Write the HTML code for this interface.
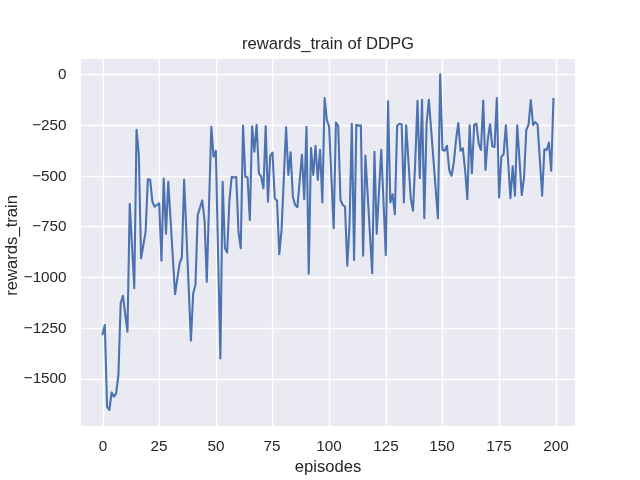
<!DOCTYPE html>
<html><head><meta charset="utf-8"><style>
html,body{margin:0;padding:0;background:#fff;}
svg{display:block;will-change:transform;}
.t{font-family:"Liberation Sans",sans-serif;font-size:15.28px;fill:#262626;}
.l{font-family:"Liberation Sans",sans-serif;font-size:16.67px;fill:#262626;}
</style></head><body>
<svg width="640" height="480" viewBox="0 0 640 480">
<rect width="640" height="480" fill="#fff"/>
<rect x="80.9" y="58.9" width="494.20000000000005" height="367.20000000000005" fill="#eaeaf2"/>
<line x1="103.5" y1="58.9" x2="103.5" y2="426.1" stroke="#fff" stroke-width="1.39"/>
<line x1="159.5" y1="58.9" x2="159.5" y2="426.1" stroke="#fff" stroke-width="1.39"/>
<line x1="216.5" y1="58.9" x2="216.5" y2="426.1" stroke="#fff" stroke-width="1.39"/>
<line x1="272.5" y1="58.9" x2="272.5" y2="426.1" stroke="#fff" stroke-width="1.39"/>
<line x1="329.5" y1="58.9" x2="329.5" y2="426.1" stroke="#fff" stroke-width="1.39"/>
<line x1="386.5" y1="58.9" x2="386.5" y2="426.1" stroke="#fff" stroke-width="1.39"/>
<line x1="442.5" y1="58.9" x2="442.5" y2="426.1" stroke="#fff" stroke-width="1.39"/>
<line x1="499.5" y1="58.9" x2="499.5" y2="426.1" stroke="#fff" stroke-width="1.39"/>
<line x1="556.5" y1="58.9" x2="556.5" y2="426.1" stroke="#fff" stroke-width="1.39"/>
<line x1="80.9" y1="74.5" x2="575.1" y2="74.5" stroke="#fff" stroke-width="1.39"/>
<line x1="80.9" y1="125.5" x2="575.1" y2="125.5" stroke="#fff" stroke-width="1.39"/>
<line x1="80.9" y1="176.5" x2="575.1" y2="176.5" stroke="#fff" stroke-width="1.39"/>
<line x1="80.9" y1="226.5" x2="575.1" y2="226.5" stroke="#fff" stroke-width="1.39"/>
<line x1="80.9" y1="277.5" x2="575.1" y2="277.5" stroke="#fff" stroke-width="1.39"/>
<line x1="80.9" y1="328.5" x2="575.1" y2="328.5" stroke="#fff" stroke-width="1.39"/>
<line x1="80.9" y1="379.5" x2="575.1" y2="379.5" stroke="#fff" stroke-width="1.39"/>
<polyline points="102.55,334.2 104.82,325.0 107.08,406.7 109.35,410.0 111.61,392.5 113.88,396.7 116.15,393.3 118.41,375.0 120.68,303.3 122.94,295.8 125.21,314.0 127.47,331.7 129.74,203.8 132.01,246.0 134.27,288.3 136.54,129.8 138.80,154.0 141.07,258.3 143.34,245.0 145.60,231.7 147.87,179.2 150.13,179.7 152.40,201.7 154.67,206.7 156.93,205.0 159.20,203.3 161.46,260.8 163.73,178.6 166.00,233.8 168.26,181.9 170.53,219.0 172.79,256.6 175.06,294.2 177.32,278.8 179.59,263.3 181.86,257.5 184.12,179.7 186.39,233.1 188.65,286.9 190.92,340.8 193.19,293.3 195.45,285.0 197.72,215.0 199.98,207.7 202.25,200.4 204.52,220.0 206.78,281.7 209.05,204.0 211.31,126.8 213.58,156.7 215.84,150.8 218.11,254.7 220.38,358.5 222.64,181.8 224.91,248.3 227.17,252.5 229.44,200.0 231.71,176.7 233.97,177.5 236.24,177.0 238.50,232.0 240.77,248.3 243.04,125.5 245.30,176.7 247.57,177.5 249.83,220.0 252.10,126.3 254.37,151.7 256.63,124.7 258.90,173.3 261.16,176.7 263.43,188.3 265.69,126.3 267.96,201.7 270.23,155.8 272.49,152.5 274.76,198.3 277.02,200.8 279.29,254.2 281.56,230.0 283.82,178.3 286.09,127.2 288.35,175.0 290.62,152.2 292.89,196.7 295.15,205.0 297.42,207.2 299.68,180.7 301.95,154.7 304.22,199.2 306.48,126.8 308.75,273.7 311.01,148.0 313.28,175.0 315.54,145.8 317.81,180.0 320.08,149.7 322.34,202.5 324.61,98.0 326.87,120.0 329.14,126.7 331.41,177.5 333.67,228.3 335.94,122.5 338.20,125.8 340.47,200.0 342.74,205.0 345.00,206.7 347.27,265.8 349.53,225.0 351.80,123.8 354.06,260.0 356.33,124.7 358.60,125.8 360.86,125.3 363.13,255.8 365.39,155.5 367.66,194.4 369.93,233.9 372.19,273.3 374.46,151.8 376.72,233.6 378.99,191.4 381.26,149.7 383.52,202.2 385.79,255.3 388.05,101.3 390.32,202.5 392.59,194.2 394.85,214.3 397.12,125.8 399.38,123.7 401.65,124.2 403.91,202.5 406.18,125.2 408.45,161.3 410.71,198.0 412.98,210.8 415.24,161.7 417.51,100.8 419.78,178.3 422.04,99.7 424.31,218.3 426.57,124.0 428.84,99.7 431.11,129.0 433.37,158.8 435.64,188.5 437.90,218.3 440.17,74.2 442.44,150.0 444.70,150.8 446.97,145.8 449.23,170.0 451.50,175.8 453.76,163.0 456.03,140.0 458.30,123.0 460.56,150.8 462.83,148.3 465.09,170.0 467.36,199.2 469.63,125.2 471.89,173.3 474.16,124.7 476.42,123.7 478.69,143.3 480.96,150.0 483.22,100.5 485.49,170.0 487.75,140.0 490.02,124.2 492.28,146.3 494.55,147.0 496.82,98.0 499.08,197.5 501.35,156.7 503.61,154.2 505.88,125.2 508.15,161.5 510.41,198.3 512.68,166.3 514.94,195.8 517.21,125.2 519.48,159.8 521.74,195.0 524.01,178.0 526.27,130.0 528.54,124.7 530.81,100.1 533.07,125.0 535.34,122.1 537.60,124.6 539.87,160.2 542.13,195.8 544.40,149.2 546.67,150.0 548.93,142.5 551.20,170.8 553.46,99.0" fill="none" stroke="#4c72b0" stroke-width="2.08" stroke-linejoin="round" stroke-linecap="square"/>
<text x="66.6" y="79.30" text-anchor="end" class="t">0</text>
<text x="66.6" y="129.98" text-anchor="end" class="t">−250</text>
<text x="66.6" y="180.66" text-anchor="end" class="t">−500</text>
<text x="66.6" y="231.34" text-anchor="end" class="t">−750</text>
<text x="66.6" y="282.02" text-anchor="end" class="t">−1000</text>
<text x="66.6" y="332.70" text-anchor="end" class="t">−1250</text>
<text x="66.6" y="383.38" text-anchor="end" class="t">−1500</text>
<text x="103.1" y="450.9" text-anchor="middle" class="t">0</text>
<text x="159.1" y="450.9" text-anchor="middle" class="t">25</text>
<text x="216.1" y="450.9" text-anchor="middle" class="t">50</text>
<text x="272.1" y="450.9" text-anchor="middle" class="t">75</text>
<text x="329.1" y="450.9" text-anchor="middle" class="t">100</text>
<text x="386.1" y="450.9" text-anchor="middle" class="t">125</text>
<text x="442.1" y="450.9" text-anchor="middle" class="t">150</text>
<text x="499.1" y="450.9" text-anchor="middle" class="t">175</text>
<text x="556.1" y="450.9" text-anchor="middle" class="t">200</text>
<text x="328" y="49.4" text-anchor="middle" class="l">rewards_train of DDPG</text>
<text x="328" y="472" text-anchor="middle" class="l">episodes</text>
<text x="0" y="0" text-anchor="middle" class="l" transform="translate(17,245.4) rotate(-90)">rewards_train</text>
</svg></body></html>
